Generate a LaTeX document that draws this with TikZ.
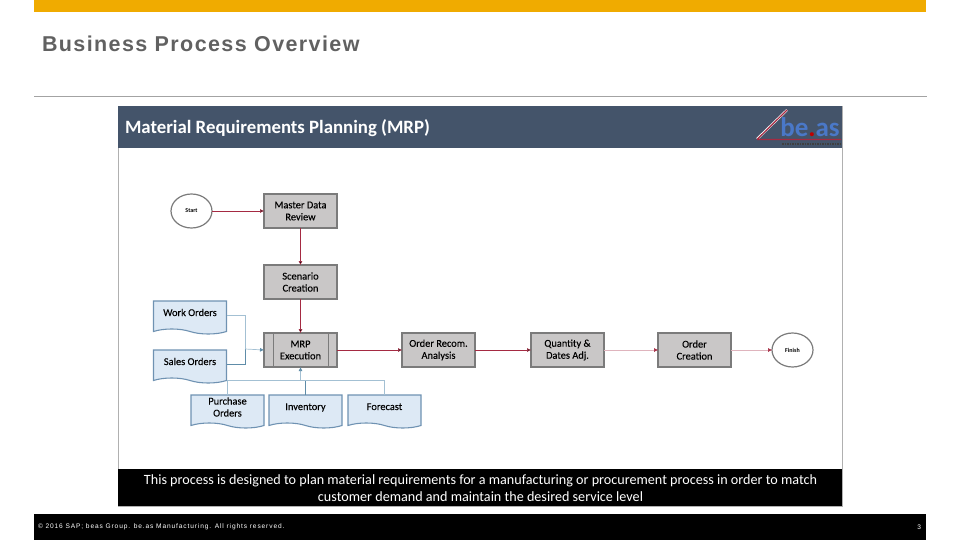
\documentclass[tikz,border=0pt]{standalone}
\usepackage{fontspec}
\setmainfont{Carlito}
\newfontfamily\stepfont[FakeBold=0.15]{Carlito}
\newfontfamily\slidefont[LetterSpace=6.5]{Liberation Sans}
\newfontfamily\footfont[LetterSpace=13.3]{Liberation Sans}
\usetikzlibrary{arrows.meta,positioning,shapes.symbols,shapes.geometric}
\definecolor{sapgold}{HTML}{F0AB00}
\definecolor{headblue}{HTML}{44546A}
\definecolor{stepgray}{HTML}{C9C7C7}
\definecolor{stepline}{HTML}{7B7B7B}
\definecolor{docblue}{HTML}{DDE9F5}
\definecolor{docline}{HTML}{6F92B2}
\definecolor{flowred}{HTML}{A52A42}
\definecolor{feedblue}{HTML}{A3C0D3}
\definecolor{feeddark}{HTML}{5E8CA8}
\definecolor{logoblue}{HTML}{4A78C8}

\begin{document}
\begin{tikzpicture}[
    x=1pt, y=-1pt,
    node distance=34pt,
    every node/.style={outer sep=0pt, inner sep=0pt, align=center, text=black},
    process/.style={draw=stepline, line width=1.3pt, fill=stepgray, minimum width=73pt, minimum height=34pt, font=\fontsize{10.4}{12}\stepfont},
    terminal/.style={ellipse, draw=stepline, line width=1.2pt, fill=white, minimum width=41pt, minimum height=34pt, font=\fontsize{6}{7}\selectfont\bfseries},
    document/.style={tape, tape bend top=none, tape bend bottom=out and in, tape bend height=5pt, draw=docline, line width=1.1pt, fill=docblue, minimum width=73pt, minimum height=33pt, font=\fontsize{10.4}{12}\stepfont, text height=8pt, text depth=6pt},
    flow/.style={draw=flowred, line width=0.5pt, -{Latex[length=4pt,width=4pt]}},
    fadeflow/.style={draw=flowred!35, line width=0.5pt, -{Latex[length=4pt,width=4pt,color=flowred]}},
    feed/.style={draw=feedblue, line width=0.7pt},
    feedtip/.style={draw=feedblue, line width=0.7pt, -{Latex[length=4pt,width=4pt,color=feeddark]}},
    bar/.style={fill=black, minimum height=37pt, text=white}
]
    \useasboundingbox (0,0) rectangle (960,540);

    % slide frame
    \node[fill=sapgold, minimum width=892pt, minimum height=12.5pt] (topbar) at (480,6) {};
    \node[anchor=west, font=\fontsize{21.5}{24}\slidefont\bfseries, text=black!62] (title) at (42,44) {Business Process Overview};
    \node[fill=stepline!70, minimum width=893pt, minimum height=0.8pt] (rule) at (480.5,96.5) {};
    \node[fill=black, minimum width=892pt, minimum height=26pt] (footer) at (480,527) {};
    \node[anchor=west, font=\fontsize{6.6}{8}\footfont, text=white] (copyright) at (38,527) {© 2016 SAP; beas Group. be.as Manufacturing. All rights reserved.};
    \node[anchor=east, font=\fontsize{6.6}{8}\footfont, text=white] (pageno) at (921,527) {3};

    % panel
    \node[draw=stepline!60, line width=0.5pt, minimum width=724pt, minimum height=400pt] (panel) at (480,306) {};
    \node[fill=headblue, minimum width=724pt, minimum height=42pt] (header) at (480,127) {};
    \node[anchor=west, font=\fontsize{18.8}{20}\selectfont\bfseries, text=white] (headline) at (125,128) {Material Requirements Planning (MRP)};
    \node[bar, minimum width=724pt] (note) at (480,487.5) {};
    \node[font=\fontsize{14.15}{17}\selectfont, text=white] (notetext) at (480.5,488) {This process is designed to plan material requirements for a manufacturing or procurement process in order to match\\customer demand and maintain the desired service level};

    % logo
    \draw[white, line width=2.4pt] (757,139) -- (787,110);
    \draw[flowred, line width=1.2pt] (757,139.5) -- (787,110) (757,139.5) -- (841,139.5);
    \draw[black!75, line width=1.5pt, densely dotted] (782,144) -- (840,144);
    \node[font=\fontsize{27}{27}\selectfont\bfseries, text=logoblue] (logo) at (810,127) {be\textcolor{red!75!black}{.}as};

    % process steps
    \node[process] (master) at (300.5,211) {Master Data\\Review};
    \node[terminal, left=52pt of master] (start) {Start};
    \node[process, below=37pt of master] (scenario) {Scenario\\Creation};
    \node[process, below=of scenario] (mrp) {MRP\\Execution};
    \node[process, right=65pt of mrp] (recom) {Order Recom.\\Analysis};
    \node[process, right=56pt of recom] (quantity) {Quantity \&\\Dates Adj.};
    \node[process, right=54pt of quantity] (creation) {Order\\Creation};
    \node[terminal, right=41pt of creation] (finish) {Finish};
    \draw[stepline, line width=1pt] ([xshift=9pt]mrp.north west) -- ([xshift=9pt]mrp.south west)
        ([xshift=-9pt]mrp.north east) -- ([xshift=-9pt]mrp.south east);

    % input documents
    \node[document] (work) at (190,315) {Work Orders};
    \node[document] (sales) at (190,364) {Sales Orders};
    \node[document, text height=20pt, text depth=5pt] (purchase) at (227.5,409) {Purchase\\Orders};
    \node[document] (inventory) at (305.5,409) {Inventory};
    \node[document] (forecast) at (384.5,409) {Forecast};

    \coordinate (join) at (245,349);
    \coordinate (bus) at (300.5,380);

    \path[flow]
        (start) edge (master)
        (master) edge (scenario)
        (scenario) edge (mrp)
        (mrp) edge (recom)
        (recom) edge (quantity);
    \path[fadeflow]
        (quantity) edge (creation)
        (creation) edge (finish);

    \draw[feed] (work.east) -| (join);
    \draw[feed, draw=feeddark] (sales.east) -| (join);
    \draw[feed] (purchase.north) |- (bus);
    \draw[feed, draw=feeddark] (inventory.north) |- (bus);
    \draw[feed] (forecast.north) |- (bus);
    \draw[feedtip] (join) -- (mrp.west);
    \draw[feedtip] (bus) -- (mrp.south);
\end{tikzpicture}
\end{document}
